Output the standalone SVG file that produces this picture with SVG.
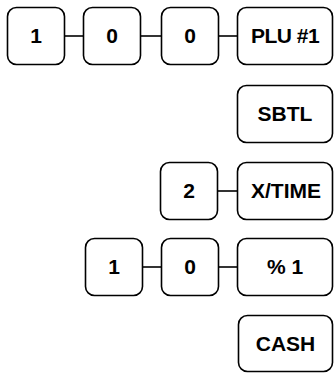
<svg xmlns="http://www.w3.org/2000/svg" width="335" height="373" viewBox="0 0 335 373">
<style>
.k{fill:#fff;stroke:#000;stroke-width:1.6}
.t{font-family:"Liberation Sans",Arial,sans-serif;font-weight:bold;font-size:21px;text-anchor:middle;fill:#000}
.c{stroke:#000;stroke-width:1.6;fill:none}
</style>
<g id="connectors">
<line class="c" x1="64.5" y1="36" x2="83.5" y2="36"/>
<line class="c" x1="140.5" y1="36" x2="161.5" y2="36"/>
<line class="c" x1="218.5" y1="36" x2="237.5" y2="36"/>
<line class="c" x1="217.5" y1="191" x2="237.5" y2="191"/>
<line class="c" x1="142.5" y1="267" x2="161.5" y2="267"/>
<line class="c" x1="218.5" y1="267" x2="237.5" y2="267"/>
</g>
<g id="k1"><rect class="k" x="7.5" y="7.5" width="57" height="57" rx="9"/><text class="t" x="36" y="42.5">1</text></g>
<g id="k2"><rect class="k" x="83.5" y="7.5" width="57" height="57" rx="9"/><text class="t" x="112" y="42.5">0</text></g>
<g id="k3"><rect class="k" x="161.5" y="7.5" width="57" height="57" rx="9"/><text class="t" x="190" y="42.5">0</text></g>
<g id="plu"><rect class="k" x="237.5" y="7.5" width="95" height="57" rx="9"/><text class="t" x="285" y="42.5" letter-spacing="-0.5">PLU #1</text></g>
<g id="sbtl"><rect class="k" x="237.5" y="85.5" width="95" height="57" rx="9"/><text class="t" x="285" y="120.5">SBTL</text></g>
<g id="k4"><rect class="k" x="160.5" y="162.5" width="57" height="57" rx="9"/><text class="t" x="189" y="197.5">2</text></g>
<g id="xtime"><rect class="k" x="237.5" y="162.5" width="95" height="57" rx="9"/><text class="t" x="286" y="197.5">X/TIME</text></g>
<g id="k5"><rect class="k" x="85.5" y="238.5" width="57" height="57" rx="9"/><text class="t" x="114" y="273.5">1</text></g>
<g id="k6"><rect class="k" x="161.5" y="238.5" width="57" height="57" rx="9"/><text class="t" x="190" y="273.5">0</text></g>
<g id="pct"><rect class="k" x="237.5" y="238.5" width="95" height="57" rx="9"/><text class="t" x="285" y="273.5">% 1</text></g>
<g id="cash"><rect class="k" x="238.5" y="315.5" width="94" height="56" rx="9"/><text class="t" x="285.5" y="350.5">CASH</text></g>
</svg>
